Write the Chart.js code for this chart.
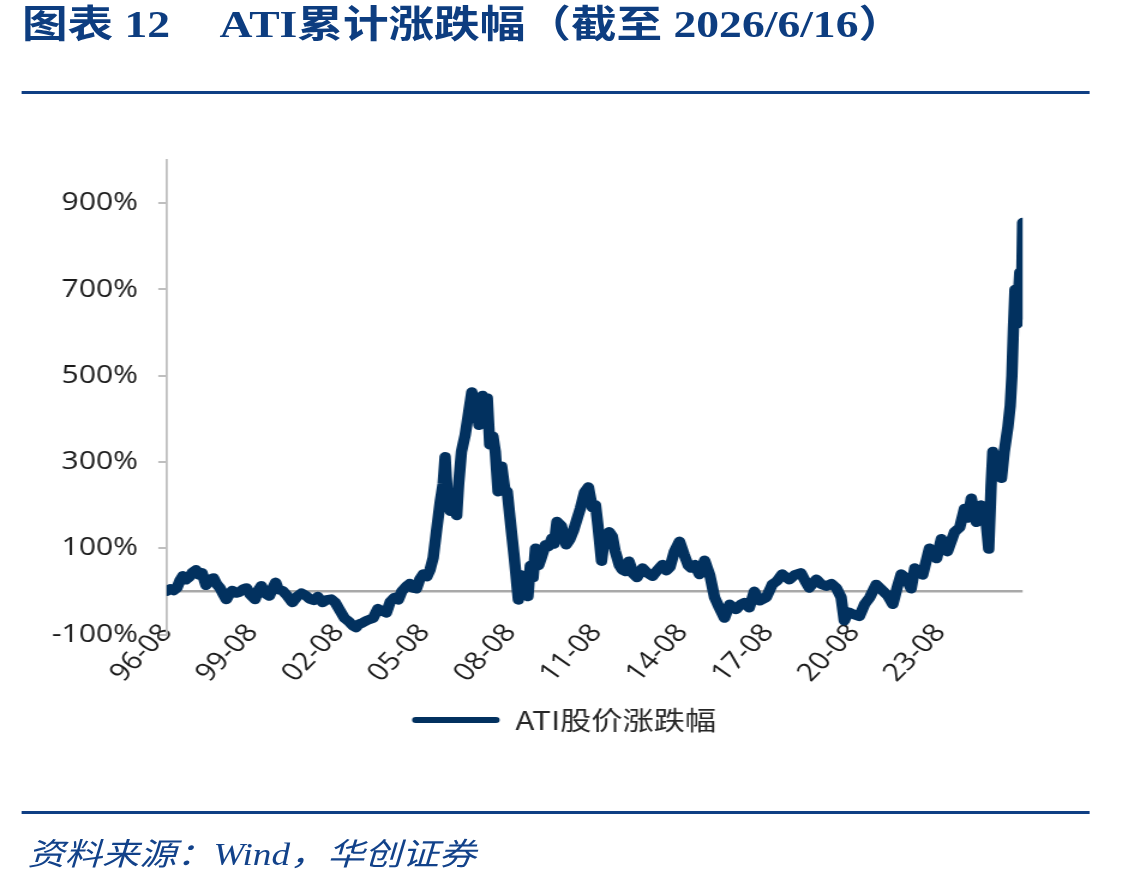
<!DOCTYPE html>
<html>
<head>
<meta charset="utf-8">
<script src="https://cdn.jsdelivr.net/npm/chart.js@4.4.1/dist/chart.umd.min.js"></script>
<style>
  html, body { margin: 0; padding: 0; background: #fff; }
  body { width: 1128px; height: 888px; overflow: hidden; position: relative; }
  /* the reference is stretched sideways, so everything is laid out narrow and widened */
  #page { position: absolute; left: 0; top: 0; width: 940px; height: 888px; transform: scaleX(1.2); transform-origin: 0 0; }
  .title { position: absolute; top: 4px; font: bold 38px "Liberation Serif", "Noto Sans CJK SC", serif; color: #0d3d80; white-space: pre; line-height: 40px; }
  .rule { position: absolute; left: 18.3px; width: 890px; height: 3px; background: #0f3f84; }
  #chartBox { position: absolute; left: 18.3px; top: 100px; width: 890px; height: 700px; }
  .source { position: absolute; left: 23px; top: 836px; font: italic 31px "Liberation Serif", "Noto Sans CJK SC", serif; color: #12428a; white-space: pre; line-height: 38px; }
</style>
</head>
<body>
<div id="page">
  <div class="title" style="left:18.3px">图表 12</div>
  <div class="title" style="left:183px">ATI累计涨跌幅（截至 2026/6/16）</div>
  <div class="rule" style="top:91px"></div>
  <div id="chartBox"><canvas id="chart"></canvas></div>
  <div class="rule" style="top:811px"></div>
  <div class="source">资料来源：Wind，华创证券</div>
</div>
<script>
// ATI cumulative change since 1996-08
const dates = [
  '1996-08-01','1996-09-20','1996-11-01','1996-12-10','1997-01-20','1997-02-25','1997-04-05','1997-05-15','1997-06-25','1997-08-10',
  '1997-09-20','1997-10-25','1997-12-15','1998-02-01','1998-03-20','1998-05-01','1998-06-10','1998-07-20','1998-09-01','1998-10-10',
  '1998-11-15','1999-01-01','1999-02-15','1999-04-01','1999-05-15','1999-07-01','1999-09-01','1999-10-10','1999-11-20','2000-01-15',
  '2000-03-01','2000-04-10','2000-05-20','2000-06-25','2000-08-15','2000-10-15','2000-12-20','2001-02-20','2001-04-15','2001-06-10',
  '2001-08-01','2001-09-20','2001-11-10','2002-01-10','2002-03-01','2002-05-01','2002-06-20','2002-08-10','2002-10-15','2002-12-10',
  '2003-02-01','2003-03-10','2003-04-20','2003-06-01','2003-08-01','2003-10-15','2003-12-15','2004-02-15','2004-04-01','2004-05-20',
  '2004-07-15','2004-09-01','2004-10-15','2004-12-15','2005-01-25','2005-03-01','2005-04-20','2005-06-01','2005-07-15','2005-09-01',
  '2005-10-10','2005-11-20','2006-01-01','2006-02-20','2006-03-25','2006-04-20','2006-05-15','2006-06-25','2006-08-01','2006-09-15',
  '2006-10-10','2006-11-15','2007-01-01','2007-02-10','2007-03-25','2007-04-25','2007-05-20','2007-06-25','2007-08-10','2007-09-10',
  '2007-10-10','2007-11-10','2007-12-20','2008-01-20','2008-02-25','2008-04-10','2008-05-20','2008-06-20','2008-07-25','2008-09-20',
  '2008-11-10','2008-12-20','2009-02-01','2009-03-10','2009-04-10','2009-05-15','2009-06-15','2009-07-25','2009-09-01','2009-10-20',
  '2009-12-01','2010-01-10','2010-02-10','2010-03-15','2010-05-10','2010-07-10','2010-08-25','2010-10-10','2010-12-01','2011-01-10',
  '2011-03-01','2011-04-20','2011-06-10','2011-07-20','2011-08-20','2011-10-05','2011-11-10','2012-01-10','2012-02-20','2012-03-25',
  '2012-05-20','2012-06-25','2012-08-10','2012-09-20','2012-11-15','2013-01-01','2013-03-10','2013-05-15','2013-07-15','2013-09-20',
  '2013-11-20','2014-01-10','2014-02-25','2014-04-20','2014-06-25','2014-08-25','2014-10-15','2014-11-20','2015-01-05','2015-03-05',
  '2015-05-10','2015-07-15','2015-09-15','2015-11-15','2016-01-20','2016-03-25','2016-06-15','2016-08-15','2016-09-30','2016-12-01',
  '2017-02-05','2017-04-10','2017-07-05','2017-09-20','2017-11-20','2018-01-25','2018-04-25','2018-07-01','2018-09-20','2018-11-20',
  '2019-01-05','2019-04-05','2019-06-10','2019-08-10','2019-10-15','2019-12-15','2020-02-15','2020-03-25','2020-05-15','2020-07-05',
  '2020-10-05','2020-12-10','2021-02-15','2021-05-05','2021-07-25','2021-10-01','2021-12-05','2022-02-01','2022-03-20','2022-05-25',
  '2022-07-25','2022-09-10','2022-12-20','2023-03-15','2023-06-15','2023-08-15','2023-11-01','2024-02-01','2024-04-05','2024-06-05',
  '2024-07-20','2024-09-01','2024-11-05','2025-01-05','2025-03-10','2025-04-10','2025-05-10','2025-06-01','2025-07-15','2025-08-20',
  '2025-09-20','2025-10-25','2025-12-10','2026-01-10','2026-02-01','2026-02-20','2026-03-10','2026-04-05','2026-04-25','2026-05-10',
  '2026-05-28','2026-06-16'
]
const values = [
  0, 6, 2, 8, 26, 36, 27, 33, 44, 50,
  38, 43, 14, 28, 31, 16, 8, -6, -19, -6,
  2, -4, -2, 5, 8, -8, -19, 2, 13, -6,
  -11, 6, 21, 4, 2, -10, -26, -12, -4, -10,
  -18, -21, -12, -26, -20, -18, -26, -42, -62, -70,
  -80, -84, -76, -73, -67, -62, -40, -46, -50, -24,
  -14, -20, 0, 12, 18, 8, 6, 28, 40, 34,
  50, 78, 140, 210, 250, 312, 232, 186, 218, 176,
  250, 324, 362, 408, 462, 440, 450, 385, 454, 430,
  448, 340, 360, 324, 231, 290, 236, 232, 170, 76,
  -20, 38, 22, -12, 60, 32, 100, 60, 80, 108,
  104, 123, 110, 162, 152, 108, 120, 140, 170, 193,
  230, 242, 194, 200, 152, 70, 122, 138, 128, 94,
  60, 50, 46, 70, 40, 32, 54, 42, 35, 50,
  62, 48, 56, 92, 116, 84, 60, 54, 62, 39,
  72, 38, -14, -38, -62, -30, -42, -30, -26, -38,
  0, -22, -14, 16, 24, 40, 27, 38, 43, 22,
  8, 28, 16, 12, 18, 8, -14, -68, -48, -52,
  -58, -30, -14, 16, 2, -10, -30, 10, 40, 30,
  6, 54, 38, 100, 76, 122, 92, 138, 148, 192,
  170, 216, 160, 200, 155, 98, 246, 324, 285, 300,
  262, 324, 380, 430, 500, 608, 700, 620, 690, 740,
  640, 855
]
const seriesName = 'ATI股价涨跌幅'
const startDate = '1996-08-01'
const endDate = '2026-06-16'
const xTickDates = ['1996-08-01','1999-08-01','2002-08-01','2005-08-01','2008-08-01','2011-08-01','2014-08-01','2017-08-01','2020-08-01','2023-08-01']
const xTickLabels = ['96-08','99-08','02-08','05-08','08-08','11-08','14-08','17-08','20-08','23-08']
const yTickValues = [-100, 0, 100, 300, 500, 700, 900]

const lineColor = '#02315f'
const axisGray = '#bfbfbf'
const tickFont = { family: '"Open Sans", "Noto Sans", sans-serif', size: 25 }

//  date string -> fractional year, so the x axis can stay linear
function toYear(s) {
  const [y, m, d] = s.split('-').map(Number)
  return y + (m - 1) / 12 + (d - 1) / 365
}

const points = dates.map((d, i) => ({ x: toYear(d), y: values[i] }))

//  reference puts the legend right of centre and the date labels a bit higher
const nudges = {
  id: 'nudges',
  afterLayout(chart) {
    chart.legend.left += 35
    chart.legend.right += 35
    chart.scales.x.top -= 16
  }
}

new Chart(document.getElementById('chart'), {
  type: 'line',
  data: {
    datasets: [{
      label: seriesName,
      data: points,
      borderColor: lineColor,
      backgroundColor: lineColor,
      borderWidth: 9.5,
      borderJoinStyle: 'round',
      borderCapStyle: 'round',
      pointRadius: 0,
      tension: 0
    }]
  },
  plugins: [nudges],
  options: {
    responsive: true,
    maintainAspectRatio: false,
    animation: false,
    layout: { padding: { top: 60, right: 55.8, bottom: 57, left: 0 } },
    plugins: {
      tooltip: { enabled: false },
      legend: {
        position: 'bottom',
        labels: {
          boxWidth: 73,
          boxHeight: 6,
          font: { family: '"Noto Sans CJK SC", "Noto Sans", sans-serif', size: 26 },
          generateLabels: () => [{
            text: seriesName, fillStyle: lineColor, strokeStyle: lineColor, lineWidth: 0,
            borderRadius: 3, fontColor: '#262626', hidden: false, datasetIndex: 0
          }]
        }
      }
    },
    scales: {
      x: {
        type: 'linear',
        min: toYear(startDate),
        max: toYear(endDate),
        afterBuildTicks: scale => { scale.ticks = xTickDates.map(d => ({ value: toYear(d) })) },
        afterFit: scale => { scale.height = 62.5 },
        ticks: {
          autoSkip: false,
          minRotation: 50,
          maxRotation: 50,
          padding: 0,
          color: '#1a1a1a',
          font: tickFont,
          callback: (v, i) => xTickLabels[i]
        },
        grid: { display: false, drawTicks: false },
        border: { display: false }
      },
      y: {
        min: -100,
        max: 1000,
        afterBuildTicks: scale => { scale.ticks = yTickValues.map(v => ({ value: v })) },
        afterFit: scale => { scale.width = 120.9 },
        ticks: {
          padding: 17,
          color: '#1a1a1a',
          font: tickFont,
          callback: v => v === 0 ? '' : v + '%'
        },
        grid: {
          drawOnChartArea: true,
          tickLength: 7,
          color: ctx => ctx.tick && ctx.tick.value === 0 ? '#a9a9a9' : 'rgba(0,0,0,0)',
          lineWidth: ctx => ctx.tick && ctx.tick.value === 0 ? 2.6 : 2,
          tickColor: ctx => ctx.tick && ctx.tick.value === 0 ? 'rgba(0,0,0,0)' : axisGray,
          tickWidth: 2
        },
        border: { display: true, color: axisGray, width: 1.8 }
      }
    }
  }
})
</script>
</body>
</html>
